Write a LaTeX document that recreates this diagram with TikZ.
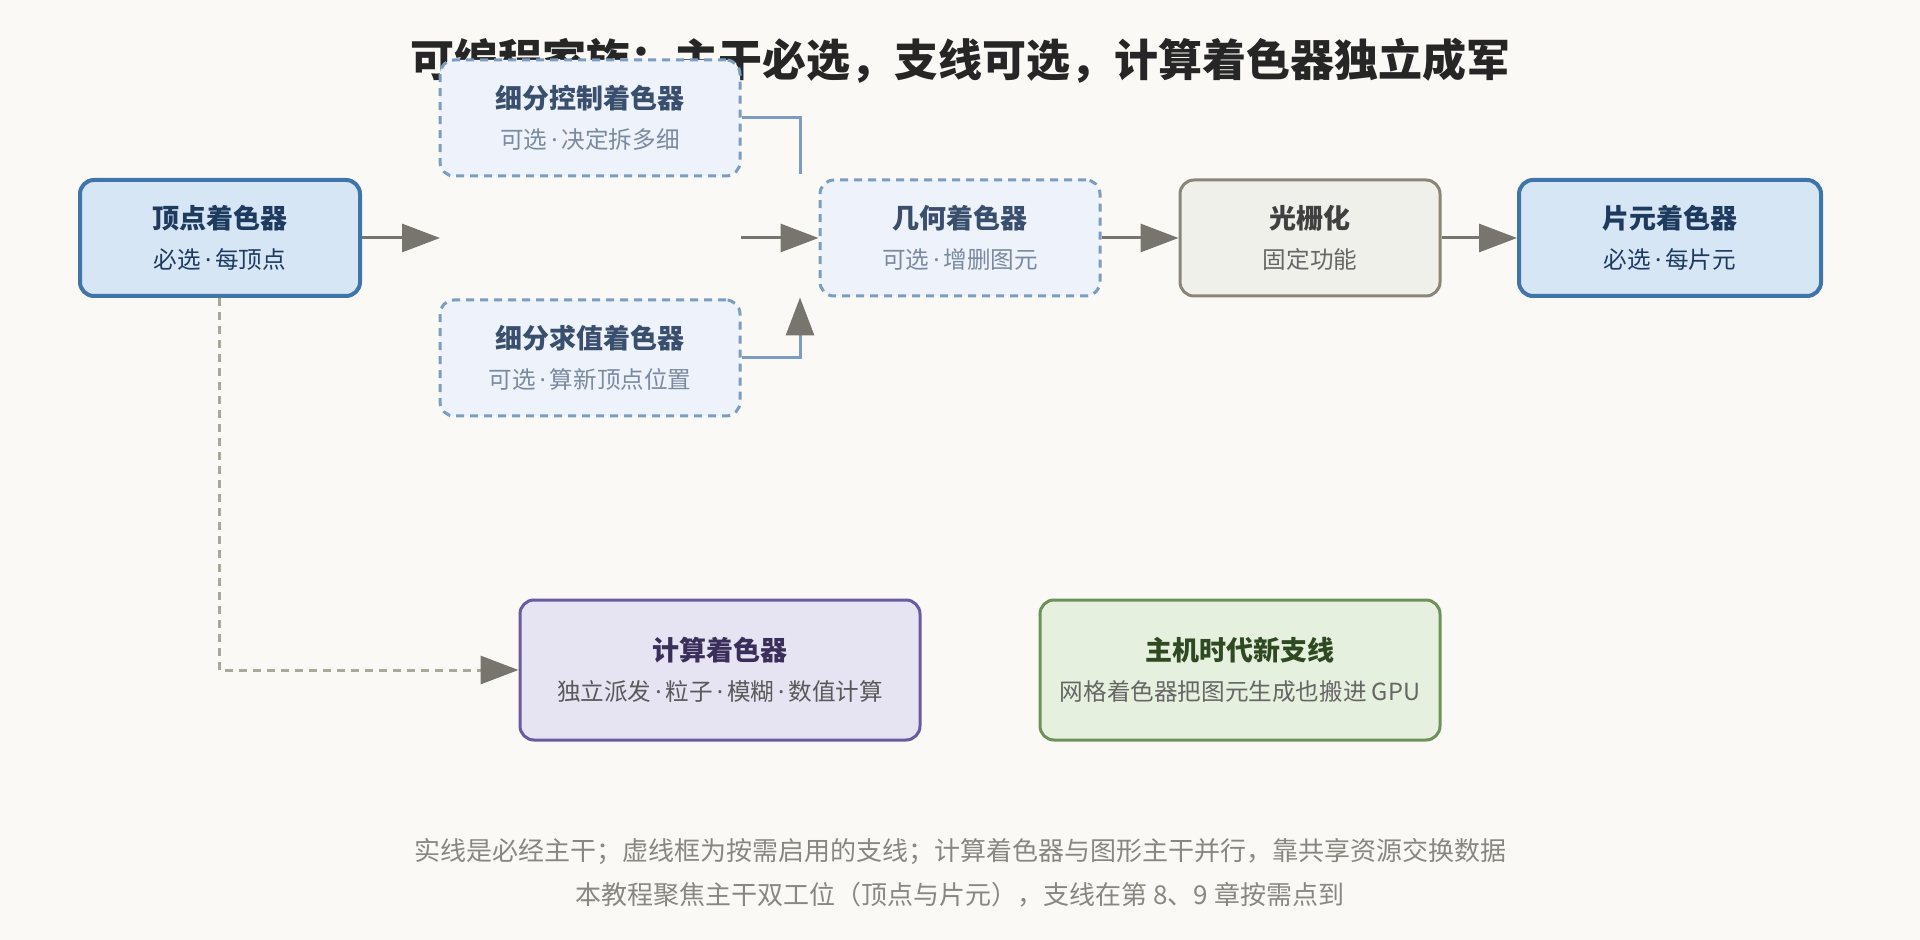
\documentclass[tikz,border=0pt]{standalone}
\usepackage{fontspec}
\setmainfont{Noto Sans CJK SC}
\newfontfamily\latinfont{Noto Sans}
\usetikzlibrary{arrows.meta,positioning}
\definecolor{bgpaper}{HTML}{FAF9F5}
\definecolor{mainfill}{HTML}{D6E6F5}
\definecolor{mainline}{HTML}{3F75A8}
\definecolor{maintext}{HTML}{1E3A5F}
\definecolor{optfill}{HTML}{EEF2FA}
\definecolor{optline}{HTML}{7C9CC0}
\definecolor{opttext}{HTML}{3A4F6E}
\definecolor{optsub}{HTML}{7A8AA0}
\definecolor{fixfill}{HTML}{EFF0EA}
\definecolor{fixline}{HTML}{8A8578}
\definecolor{compfill}{HTML}{E6E3F2}
\definecolor{compline}{HTML}{6A5A9E}
\definecolor{comptext}{HTML}{3A2F5A}
\definecolor{meshfill}{HTML}{E6F0DE}
\definecolor{meshline}{HTML}{6E9159}
\definecolor{meshtext}{HTML}{2F4A22}
\definecolor{arrgray}{HTML}{77756D}
\definecolor{dotgray}{HTML}{AAA898}
\definecolor{foot}{HTML}{8A8680}
\tikzset{
       arr/.style = {-{Triangle[length=19pt,width=14pt]}, line width=1.5pt, arrgray},
      base/.style = {rounded corners=7pt, minimum height=58pt, align=center,
                     font=\fontsize{11.8}{20}\selectfont},
      must/.style = {base, draw=mainline, fill=mainfill, line width=2pt, text=maintext},
       opt/.style = {base, draw=optline, fill=optfill, line width=1.5pt,
                     dash pattern=on 4pt off 3pt, text=optsub},
     fixed/.style = {base, draw=fixline, fill=fixfill, line width=1.5pt, text=black!60},
      comp/.style = {base, draw=compline, fill=compfill, line width=1.5pt,
                     minimum height=70pt, text=black!65},
      mesh/.style = {base, draw=meshline, fill=meshfill, line width=1.5pt,
                     minimum height=70pt, text=black!60},
}
\newcommand{\hd}[2]{{\fontsize{13.5}{17}\selectfont\bfseries\color{#1}#2}}
\newcommand{\md}{{\latinfont\,·\,}}
\begin{document}
\begin{tikzpicture}[x=0.5pt,y=-0.5pt]
  \fill[bgpaper] (0,0) rectangle (1920,940);
  \node[font=\fontsize{22}{26}\selectfont\bfseries, text=black!85] (title) at (960,61)
    {可编程家族：主干必选，支线可选，计算着色器独立成军};

  % main line
  \node[must, minimum width=140pt] (vs) at (220,238) {\hd{maintext}{顶点着色器}\\必选\md 每顶点};
  \node[opt, minimum width=150pt] (tcs) at (590,118) {\hd{opttext}{细分控制着色器}\\可选\md 决定拆多细};
  \node[opt, minimum width=150pt] (tes) at (590,358) {\hd{opttext}{细分求值着色器}\\可选\md 算新顶点位置};
  \node[opt, minimum width=140pt] (gs) at (960,238) {\hd{opttext}{几何着色器}\\可选\md 增删图元};
  \node[fixed, minimum width=130pt] (rast) at (1310,238) {\hd{black!75}{光栅化}\\固定功能};
  \node[must, minimum width=151pt] (fs) at (1670,238) {\hd{maintext}{片元着色器}\\必选\md 每片元};

  % side nodes
  \node[comp, minimum width=200pt] (cs) at (720,670) {\hd{comptext}{计算着色器}\\独立派发\md 粒子\md 模糊\md 数值计算};
  \node[mesh, minimum width=200pt] (ms) at (1240,670) {\hd{meshtext}{主机时代新支线}\\网格着色器把图元生成也搬进 GPU};

  \coordinate (tin) at (440,238);
  \coordinate (tout) at (741,238);
  \coordinate (tcsend) at (800,174);
  \draw[arr] (vs) -- (tin);
  \draw[arr] (tout) -- (gs);
  \draw[arr] (gs) -- (rast);
  \draw[arr] (rast) -- (fs);
  \draw[optline, line width=1.5pt] (tcs.east) -| (tcsend);
  \draw[optline, line width=1.5pt] (tes.east) -| (800,330);
  \draw[arr, -{Triangle[length=19pt,width=14pt,color=arrgray]}, optline] (800,330) -- (gs.south -| 800,0);
  \draw[arr, dotgray, dash pattern=on 4pt off 3pt, -{Triangle[length=19pt,width=14pt,color=arrgray]}]
    (vs.south -| 219,0) |- (cs.west);

  \node[text=foot, align=center, font=\fontsize{13}{22}\selectfont] (note) at (960,873)
    {实线是必经主干；虚线框为按需启用的支线；计算着色器与图形主干并行，靠共享资源交换数据\\
     本教程聚焦主干双工位（顶点与片元），支线在第 8、9 章按需点到};
\end{tikzpicture}
\end{document}
